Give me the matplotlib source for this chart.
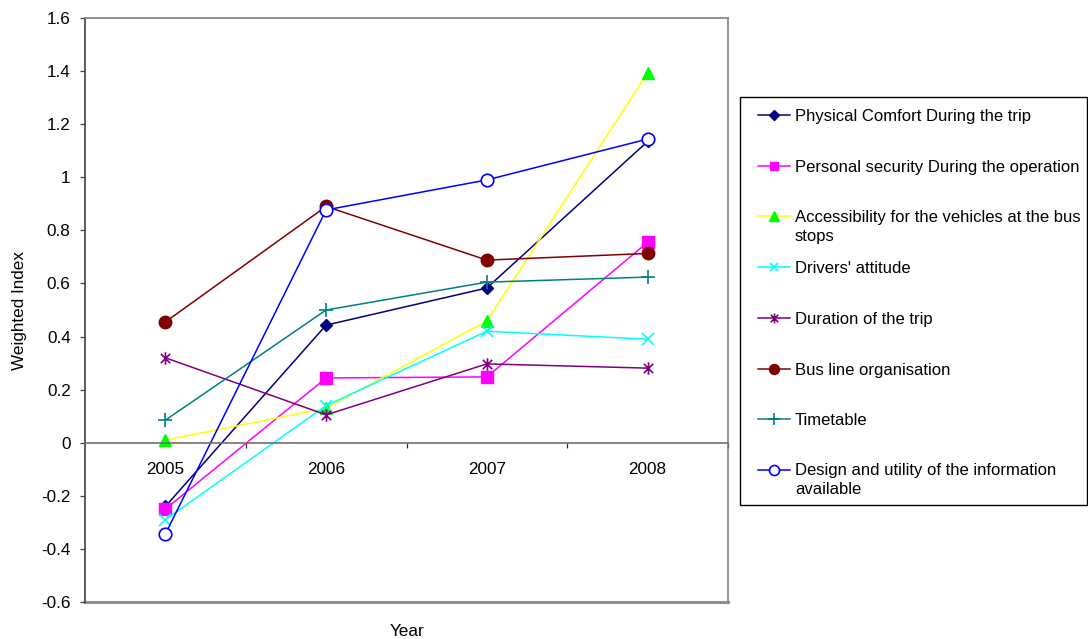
import matplotlib
matplotlib.use("Agg")
import matplotlib.pyplot as plt
from matplotlib.path import Path
from matplotlib.patches import Rectangle
from matplotlib.lines import Line2D
from matplotlib.ticker import FuncFormatter, FixedLocator

plt.rcParams['font.family'] = ['Liberation Sans', 'DejaVu Sans']
FS = 12.3
LEG_FS = 12.0

years = ["2005", "2006", "2007", "2008"]

physical_comfort = [-0.24, 0.443, 0.583, 1.135]
personal_security = [-0.25, 0.244, 0.248, 0.755]
accessibility = [0.01, 0.13, 0.459, 1.393]
drivers_attitude = [-0.29, 0.14, 0.42, 0.39]
trip_duration = [0.32, 0.105, 0.297, 0.281]
bus_line_org = [0.455, 0.89, 0.688, 0.713]
timetable = [0.085, 0.50, 0.605, 0.624]
info_design = [-0.344, 0.877, 0.99, 1.144]

labels = [
    "Physical Comfort During the trip",
    "Personal security During the operation",
    "Accessibility for the vehicles at the bus\nstops",
    "Drivers' attitude",
    "Duration of the trip",
    "Bus line organisation",
    "Timetable",
    "Design and utility of the information\navailable",
]

# asterisk marker: vertical stroke plus a diagonal cross
asterisk = Path(
    [(0, -1), (0, 1), (-0.75, -0.75), (0.75, 0.75), (-0.75, 0.75), (0.75, -0.75)],
    [Path.MOVETO, Path.LINETO, Path.MOVETO, Path.LINETO, Path.MOVETO, Path.LINETO],
)

styles = [
    dict(color="#000080", marker="D", ms=6.5, mfc="#000080", mec="#000080"),
    dict(color="#FF00FF", marker="s", ms=8, mfc="#FF00FF", mec="#FF00FF"),
    dict(color="#FFFF00", marker="^", ms=9, mfc="#00FF00", mec="#00FF00"),
    dict(color="#00FFFF", marker="x", ms=8, mfc="none", mec="#00FFFF", mew=1.2),
    dict(color="#800080", marker=asterisk, ms=9, mfc="none", mec="#800080", mew=1.2),
    dict(color="#800000", marker="o", ms=9, mfc="#800000", mec="#800000"),
    dict(color="#008080", marker="+", ms=10, mfc="none", mec="#008080", mew=1.2),
    dict(color="#0000FF", marker="o", ms=9, mfc="white", mec="#0000FF", mew=1.2),
]

series = [physical_comfort, personal_security, accessibility, drivers_attitude,
          trip_duration, bus_line_org, timetable, info_design]

W, H = 1088, 639
fig = plt.figure(figsize=(W / 100, H / 100), dpi=100)
ax = fig.add_axes([85 / W, 1 - 602 / H, (728 - 85) / W, (602 - 18) / H])

xpos = list(range(1, len(years) + 1))
for vals, st in zip(series, styles):
    ax.plot(xpos, vals, lw=1.1, clip_on=False, **st)

ax.set_xlim(0.5, 4.5)
ax.set_ylim(-0.6, 1.6)
ax.set_yticks([-0.6 + 0.2 * i for i in range(12)])
ax.yaxis.set_major_formatter(FuncFormatter(lambda v, p: f"{round(v, 1):g}"))

# frame
for side in ("top", "right"):
    ax.spines[side].set_color("#808080")
    ax.spines[side].set_linewidth(1.2)
ax.spines["left"].set_color("#404040")
ax.spines["left"].set_linewidth(1.2)
ax.spines["bottom"].set_position(("data", 0))
ax.spines["bottom"].set_color("#707070")
ax.spines["bottom"].set_linewidth(1.2)
ax.plot([0, 1], [0, 0], transform=ax.transAxes, color="#909090", lw=2.2,
        clip_on=False, zorder=0.5)

ax.set_xticks(xpos)
ax.set_xticklabels(years)
ax.xaxis.set_minor_locator(FixedLocator([1.5, 2.5, 3.5, 4.5]))
ax.tick_params(axis="x", which="major", length=0, pad=14, labelsize=FS)
ax.tick_params(axis="x", which="minor", length=3.5, width=0.9, direction="out",
               color="#303030")
ax.tick_params(axis="y", length=3.8, width=0.9, color="#404040", labelsize=FS, pad=6.5)

fig.text(20 / W, 1 - 310 / H, "Weighted Index", rotation=90, ha="center",
         va="center", fontsize=FS)
fig.text(407 / W, 1 - 631 / H, "Year", ha="center", va="center", fontsize=FS)

# legend panel
fig.patches.append(Rectangle((740 / W, 1 - 505 / H), (1086.5 - 740) / W, (505 - 97) / H,
                             transform=fig.transFigure, fill=False,
                             edgecolor="black", lw=1.0))
for i, (lab, st) in enumerate(zip(labels, styles)):
    yc = 115 + i * 50.7
    fig.add_artist(Line2D([758 / W, 790 / W], [1 - yc / H, 1 - yc / H],
                          transform=fig.transFigure, lw=1.1,
                          **{k: v for k, v in st.items() if k != "ms"},
                          ms=st["ms"] * 0.8, markevery=[]))
    fig.add_artist(Line2D([774 / W], [1 - yc / H], transform=fig.transFigure,
                          linestyle="none",
                          **{k: v for k, v in st.items() if k not in ("ms", "color")},
                          ms=st["ms"] * 0.8))
    extra = 18.5 * lab.count("\n")
    fig.text(795 / W, 1 - (yc + 6 + extra) / H, lab, ha="left", va="baseline",
             fontsize=LEG_FS, linespacing=1.36)

fig.savefig("out.png", dpi=100)
